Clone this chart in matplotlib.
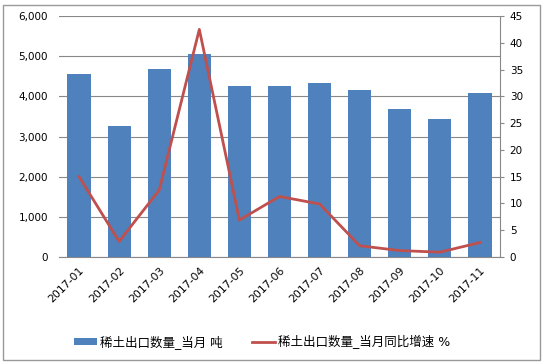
import matplotlib
matplotlib.use("Agg")
import matplotlib.pyplot as plt
from matplotlib.patches import Rectangle
import numpy as np

plt.rcParams['font.family'] = ['DejaVu Sans', 'Noto Sans CJK SC']

months = ["2017-01", "2017-02", "2017-03", "2017-04", "2017-05", "2017-06",
          "2017-07", "2017-08", "2017-09", "2017-10", "2017-11"]
export_qty = [4560, 3260, 4680, 5050, 4260, 4260, 4330, 4160, 3690, 3430, 4080]
yoy_growth = [15.0, 2.9, 12.5, 42.5, 6.9, 11.3, 9.9, 2.1, 1.2, 0.9, 2.7]
bar_label = "稀土出口数量_当月 吨"
line_label = "稀土出口数量_当月同比增速 %"

fig = plt.figure(figsize=(5.45, 3.63), dpi=100)
ax = fig.add_axes([59/545, 1 - 257/363, (500-59)/545, (257-16)/363])
x = np.arange(len(months))
bars = ax.bar(x, export_qty, width=0.58, color="#4F81BD", zorder=2, label=bar_label)
ax.set_ylim(0, 6000)
ax.set_xlim(-0.5, len(months) - 0.5)
ax.set_yticks(range(0, 6001, 1000))
ax.set_yticklabels([f"{v:,}" for v in range(0, 6001, 1000)])
ax.grid(axis='y', color="#888888", linewidth=0.8, zorder=0)
for s in ["top", "right", "left"]:
    ax.spines[s].set_visible(False)
ax.spines["bottom"].set_color("#888888")
ax.tick_params(axis='y', length=0, labelsize=7.5, pad=8)
ax.tick_params(axis='x', length=0, labelsize=7.8, pad=6)
ax.set_xticks(x)
ax.set_xticklabels(months, rotation=45, ha='right', rotation_mode='anchor')

ax2 = ax.twinx()
ln, = ax2.plot(x, yoy_growth, color="#C0504D", linewidth=2, zorder=3, label=line_label)
ax2.set_ylim(0, 45)
ax2.set_yticks(range(0, 46, 5))
for s in ["top", "left", "bottom"]:
    ax2.spines[s].set_visible(False)
ax2.spines["right"].set_color("#888888")
ax2.tick_params(axis='y', length=3, color="#888888", labelsize=7.5, pad=4)

fig.legend([bars, ln], [bar_label, line_label], loc='center left', bbox_to_anchor=(74/545, 1 - 342/363),
           ncol=2, frameon=False, fontsize=9, handlelength=1.85, handleheight=0.45,
           columnspacing=2.3, handletextpad=0.25, borderaxespad=0, borderpad=0)

fig.patches.append(Rectangle((3/545, 3/363), 537/545, 355/363, transform=fig.transFigure,
                             fill=False, edgecolor="#999999", linewidth=1))
fig.savefig("out.png", dpi=100)
